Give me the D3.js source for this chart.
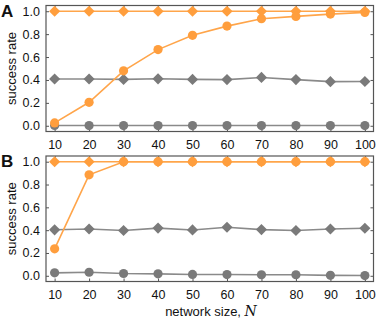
<!DOCTYPE html>
<html>
<head>
<meta charset="utf-8">
<script src="https://cdn.jsdelivr.net/npm/d3@7"></script>
<style>
  body { margin: 0; background: #fff; }
  svg { display: block; font-family: "Liberation Sans", Arial, sans-serif; }
  .tick text { font-size: 12.5px; fill: #111; }
</style>
</head>
<body>
<div id="chart"></div>
<script>
var sizes = [10, 20, 30, 40, 50, 60, 70, 80, 90, 100];

// panel A
var aOrangeDiamond = [1, 1, 1, 1, 1, 1, 1, 1, 1, 1];
var aOrangeCircle = [0.025, 0.205, 0.48, 0.665, 0.79, 0.87, 0.935, 0.955, 0.975, 0.99];
var aGrayDiamond = [0.408, 0.408, 0.405, 0.41, 0.405, 0.403, 0.422, 0.403, 0.385, 0.387];
var aGrayCircle = [0.003, 0.002, 0.002, 0.002, 0.002, 0.002, 0.002, 0.002, 0.002, 0.002];

// panel B
var bOrangeDiamond = [1, 1, 1, 1, 1, 1, 1, 1, 1, 1];
var bOrangeCircle = [0.236, 0.885, 1, 1, 1, 1, 1, 1, 1, 1];
var bGrayDiamond = [0.403, 0.41, 0.397, 0.418, 0.402, 0.425, 0.405, 0.397, 0.41, 0.417];
var bGrayCircle = [0.026, 0.031, 0.02, 0.017, 0.012, 0.011, 0.009, 0.009, 0.004, 0.002];

var yTicks = [0, 0.2, 0.4, 0.6, 0.8, 1.0];

var W = 382, H = 323;
var orange = '#ff9e3d', gray = '#7a7a7a';
var orangeLine = '#ffa54a', grayLine = '#8a8a8a';

var svg = d3.select('#chart').append('svg').attr('width', W).attr('height', H);

var x = d3.scaleLinear().domain([7.5, 102.5]).range([46, 373.5]);

var panels = [
  { label: 'A', top: 5.5, bottom: 131.5,
    series: [
      { v: aGrayCircle, shape: 'circle', c: gray, l: grayLine },
      { v: aGrayDiamond, shape: 'diamond', c: gray, l: grayLine },
      { v: aOrangeDiamond, shape: 'diamond', c: orange, l: orangeLine },
      { v: aOrangeCircle, shape: 'circle', c: orange, l: orangeLine }
    ] },
  { label: 'B', top: 156, bottom: 281.5,
    series: [
      { v: bGrayCircle, shape: 'circle', c: gray, l: grayLine },
      { v: bGrayDiamond, shape: 'diamond', c: gray, l: grayLine },
      { v: bOrangeDiamond, shape: 'diamond', c: orange, l: orangeLine },
      { v: bOrangeCircle, shape: 'circle', c: orange, l: orangeLine }
    ] }
];

var diamond = d3.symbol().type(d3.symbolSquare).size(62);

panels.forEach(function(p) {
  var y = d3.scaleLinear().domain([-0.05, 1.05]).range([p.bottom, p.top]);
  var g = svg.append('g');

  // bottom axis with labels, mirrored ticks on top
  var xb = g.append('g').attr('transform', 'translate(0,' + p.bottom + ')')
    .call(d3.axisBottom(x).tickValues(sizes).tickSize(-3).tickPadding(9));
  xb.select('.domain').remove();
  xb.selectAll('line').attr('stroke', '#555');
  var xt = g.append('g').attr('transform', 'translate(0,' + p.top + ')')
    .call(d3.axisTop(x).tickValues(sizes).tickSize(-3).tickFormat(''));
  xt.select('.domain').remove();
  xt.selectAll('line').attr('stroke', '#555');

  var yl = g.append('g').attr('transform', 'translate(' + x.range()[0] + ',0)')
    .call(d3.axisLeft(y).tickValues(yTicks).tickSize(-3).tickPadding(6).tickFormat(d3.format('.1f')));
  yl.select('.domain').remove();
  yl.selectAll('line').attr('stroke', '#555');
  var yr = g.append('g').attr('transform', 'translate(' + x.range()[1] + ',0)')
    .call(d3.axisRight(y).tickValues(yTicks).tickSize(-3).tickFormat(''));
  yr.select('.domain').remove();
  yr.selectAll('line').attr('stroke', '#555');

  // frame
  g.append('rect')
    .attr('x', x.range()[0]).attr('y', p.top)
    .attr('width', x.range()[1] - x.range()[0]).attr('height', p.bottom - p.top)
    .attr('fill', 'none').attr('stroke', '#555').attr('stroke-width', 1.2);

  var line = d3.line()
    .x(function(d, i) { return x(sizes[i]); })
    .y(function(d) { return y(d); });

  p.series.forEach(function(s) {
    g.append('path').attr('d', line(s.v))
      .attr('fill', 'none').attr('stroke', s.l).attr('stroke-width', 1.6);
    if (s.shape === 'circle') {
      g.selectAll(null).data(s.v).enter().append('circle')
        .attr('cx', function(d, i) { return x(sizes[i]); })
        .attr('cy', function(d) { return y(d); })
        .attr('r', 4.6).attr('fill', s.c);
    } else {
      g.selectAll(null).data(s.v).enter().append('path')
        .attr('d', diamond)
        .attr('transform', function(d, i) { return 'translate(' + x(sizes[i]) + ',' + y(d) + ') rotate(45)'; })
        .attr('fill', s.c);
    }
  });

  // y label
  g.append('text')
    .attr('transform', 'translate(15.5,' + y(0.5) + ') rotate(-90)')
    .attr('text-anchor', 'middle')
    .attr('font-size', 13).attr('fill', '#111')
    .text('success rate');

  // panel label
  g.append('text')
    .attr('x', 1).attr('y', p.top + 11)
    .attr('font-size', 17).attr('font-weight', 'bold').attr('fill', '#111')
    .text(p.label);
});

var title = svg.append('text')
  .attr('x', 211).attr('y', 316)
  .attr('text-anchor', 'middle').attr('font-size', 13).attr('fill', '#111');
title.append('tspan').text('network size, ');
title.append('tspan').attr('font-family', '"DejaVu Serif", "Liberation Serif", serif')
  .attr('font-style', 'italic').attr('font-size', 14).text('N');
</script>
</body>
</html>
